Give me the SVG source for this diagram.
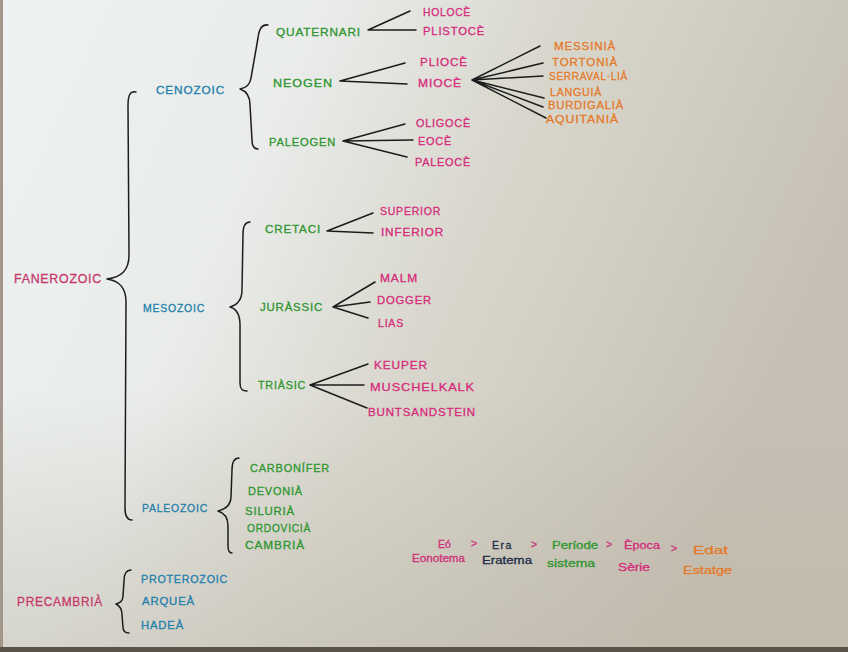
<svg xmlns="http://www.w3.org/2000/svg" width="848" height="652" viewBox="0 0 848 652">
<defs>
<linearGradient id="paper" x1="0" y1="0" x2="1" y2="0.35">
<stop offset="0" stop-color="#eef2f2"/>
<stop offset="0.35" stop-color="#e9ecea"/>
<stop offset="0.6" stop-color="#d9d7cd"/>
<stop offset="1" stop-color="#c6c0b4"/>
</linearGradient>
<linearGradient id="shade" x1="0" y1="0" x2="0" y2="1">
<stop offset="0.6" stop-color="#bcb6a8" stop-opacity="0"/>
<stop offset="1" stop-color="#bcb6a8" stop-opacity="0.45"/>
</linearGradient>
<style>
text{font-family:"Liberation Sans","DejaVu Sans",sans-serif;font-size:11px;letter-spacing:0.8px;stroke-width:0.3px}
.fan{fill:#c6386a;stroke:#c6386a;font-size:13px}
.era{fill:#1f80ab;stroke:#1f80ab}
.per{fill:#2f962f;stroke:#2f962f}
.epo{fill:#d62b7b;stroke:#d62b7b}
.age{fill:#e47a2a;stroke:#e47a2a}
.lg{font-size:10.5px;letter-spacing:0}
.dk{fill:#1d2c48;stroke:#1d2c48}
.gt{fill:#cf2f78;stroke:#cf2f78}
.ln{fill:none;stroke:#1c1c1c;stroke-width:1.5;stroke-linecap:round;stroke-linejoin:round}
</style>
</defs>
<rect width="848" height="652" fill="url(#paper)"/>
<rect width="848" height="652" fill="url(#shade)"/>
<rect x="0" y="0" width="3" height="652" fill="#a3968a"/>
<rect x="0" y="647" width="848" height="5" fill="#5b5249"/>

<g id="connectors">
<path class="ln" d="M136,92 C130,91 128,95 128,106 L129,255 C129,271 121,277 107,279 C120,281 126,288 126,302 L125,508 C125,516 127,520 132,520"/>
<path class="ln" d="M268,25 C262,24 259,29 258,38 L251,78 C250,85 246,88 240,89 C246,91 250,96 250,105 L252,140 C252,146 254,149 258,149"/>
<path class="ln" d="M250,222 C245,222 243,226 243,234 L242,290 C242,300 237,305 230,307 C237,309 240,315 240,325 L240,383 C240,389 242,391 247,391"/>
<path class="ln" d="M239,458 C234,458 232,462 232,470 L231,497 C231,505 226,509 218,511 C225,513 228,518 228,526 L228,546 C228,551 229,553 232,553"/>
<path class="ln" d="M131,570 C126,570 124,574 124,581 L123,596 C123,601 120,603 116,604 C120,606 122,609 122,615 L123,627 C123,631 125,633 129,633"/>
<path class="ln" d="M410,11 L368,30 L416,30"/>
<path class="ln" d="M405,63 L340,81 L407,84"/>
<path class="ln" d="M540,46 L472,80 L543,63 M472,80 L543,76 M472,80 L544,98 M472,80 L543,107 M472,80 L546,118"/>
<path class="ln" d="M405,124 L343,141 L413,140 M343,141 L407,157"/>
<path class="ln" d="M373,213 L327,231 L373,233"/>
<path class="ln" d="M375,282 L333,307 L370,302 M333,307 L368,318"/>
<path class="ln" d="M368,364 L310,385 L364,385 M310,385 L367,408"/>
</g>

<g id="fanerozoic"><text class="fan" x="14" y="283" textLength="88" lengthAdjust="spacingAndGlyphs">FANEROZOIC</text></g>
<g id="precambria"><text class="fan" x="17" y="606" textLength="86" lengthAdjust="spacingAndGlyphs">PRECAMBRIÀ</text></g>

<g id="cenozoic"><text class="era" x="156" y="94" textLength="69" lengthAdjust="spacingAndGlyphs">CENOZOIC</text></g>
<g id="mesozoic"><text class="era" x="143" y="312" textLength="62" lengthAdjust="spacingAndGlyphs">MESOZOIC</text></g>
<g id="paleozoic"><text class="era" x="142" y="512" textLength="66" lengthAdjust="spacingAndGlyphs">PALEOZOIC</text></g>
<g id="proterozoic"><text class="era" x="141" y="583" textLength="87" lengthAdjust="spacingAndGlyphs">PROTEROZOIC</text></g>
<g id="arquea"><text class="era" x="142" y="605" textLength="53" lengthAdjust="spacingAndGlyphs">ARQUEÀ</text></g>
<g id="hadea"><text class="era" x="141" y="629" textLength="43" lengthAdjust="spacingAndGlyphs">HADEÀ</text></g>

<g id="quaternari"><text class="per" x="276" y="36" textLength="85" lengthAdjust="spacingAndGlyphs">QUATERNARI</text></g>
<g id="neogen"><text class="per" x="273" y="87" textLength="60" lengthAdjust="spacingAndGlyphs">NEOGEN</text></g>
<g id="paleogen"><text class="per" x="269" y="146" textLength="67" lengthAdjust="spacingAndGlyphs">PALEOGEN</text></g>
<g id="cretaci"><text class="per" x="265" y="233" textLength="56" lengthAdjust="spacingAndGlyphs">CRETACI</text></g>
<g id="jurassic"><text class="per" x="260" y="311" textLength="63" lengthAdjust="spacingAndGlyphs">JURÀSSIC</text></g>
<g id="triasic"><text class="per" x="258" y="389" textLength="48" lengthAdjust="spacingAndGlyphs">TRIÀSIC</text></g>
<g id="carbonifer"><text class="per" x="250" y="472" textLength="80" lengthAdjust="spacingAndGlyphs">CARBONÍFER</text></g>
<g id="devonia"><text class="per" x="248" y="495" textLength="55" lengthAdjust="spacingAndGlyphs">DEVONIÀ</text></g>
<g id="siluria"><text class="per" x="245" y="515" textLength="50" lengthAdjust="spacingAndGlyphs">SILURIÀ</text></g>
<g id="ordovicia"><text class="per" x="247" y="532" textLength="64" lengthAdjust="spacingAndGlyphs">ORDOVICIÀ</text></g>
<g id="cambria"><text class="per" x="245" y="549" textLength="60" lengthAdjust="spacingAndGlyphs">CAMBRIÀ</text></g>

<g id="holoce"><text class="epo" x="423" y="16" textLength="48" lengthAdjust="spacingAndGlyphs">HOLOCÈ</text></g>
<g id="plistoce"><text class="epo" x="423" y="35" textLength="62" lengthAdjust="spacingAndGlyphs">PLISTOCÈ</text></g>
<g id="plioce"><text class="epo" x="420" y="66" textLength="48" lengthAdjust="spacingAndGlyphs">PLIOCÈ</text></g>
<g id="mioce"><text class="epo" x="418" y="87" textLength="44" lengthAdjust="spacingAndGlyphs">MIOCÈ</text></g>
<g id="oligoce"><text class="epo" x="416" y="127" textLength="55" lengthAdjust="spacingAndGlyphs">OLIGOCÈ</text></g>
<g id="eoce"><text class="epo" x="418" y="145" textLength="34" lengthAdjust="spacingAndGlyphs">EOCÈ</text></g>
<g id="paleoce"><text class="epo" x="415" y="166" textLength="56" lengthAdjust="spacingAndGlyphs">PALEOCÈ</text></g>
<g id="superior"><text class="epo" x="380" y="215" textLength="61" lengthAdjust="spacingAndGlyphs">SUPERIOR</text></g>
<g id="inferior"><text class="epo" x="381" y="236" textLength="63" lengthAdjust="spacingAndGlyphs">INFERIOR</text></g>
<g id="malm"><text class="epo" x="380" y="282" textLength="38" lengthAdjust="spacingAndGlyphs">MALM</text></g>
<g id="dogger"><text class="epo" x="377" y="304" textLength="55" lengthAdjust="spacingAndGlyphs">DOGGER</text></g>
<g id="lias"><text class="epo" x="378" y="327" textLength="26" lengthAdjust="spacingAndGlyphs">LIAS</text></g>
<g id="keuper"><text class="epo" x="374" y="369" textLength="54" lengthAdjust="spacingAndGlyphs">KEUPER</text></g>
<g id="muschelkalk"><text class="epo" x="370" y="391" textLength="105" lengthAdjust="spacingAndGlyphs">MUSCHELKALK</text></g>
<g id="buntsandstein"><text class="epo" x="368" y="416" textLength="108" lengthAdjust="spacingAndGlyphs">BUNTSANDSTEIN</text></g>

<g id="messinia"><text class="age" x="554" y="50" textLength="62" lengthAdjust="spacingAndGlyphs">MESSINIÀ</text></g>
<g id="tortonia"><text class="age" x="552" y="66" textLength="66" lengthAdjust="spacingAndGlyphs">TORTONIÀ</text></g>
<g id="serravallia"><text class="age" x="549" y="80" textLength="79" lengthAdjust="spacingAndGlyphs">SERRAVAL·LIÀ</text></g>
<g id="languia"><text class="age" x="550" y="96" textLength="52" lengthAdjust="spacingAndGlyphs">LANGUIÀ</text></g>
<g id="burdigalia"><text class="age" x="548" y="109" textLength="76" lengthAdjust="spacingAndGlyphs">BURDIGALIÀ</text></g>
<g id="aquitania"><text class="age" x="546" y="123" textLength="73" lengthAdjust="spacingAndGlyphs">AQUITANIÀ</text></g>

<g id="legend">
<text class="lg gt" x="438" y="548">Eó</text>
<text class="lg gt" x="471" y="547">&gt;</text>
<text class="lg dk" x="492" y="549" style="letter-spacing:1.5px">Era</text>
<text class="lg gt" x="531" y="548">&gt;</text>
<text class="lg per" x="552" y="549" textLength="46" lengthAdjust="spacingAndGlyphs">Període</text>
<text class="lg gt" x="606" y="548">&gt;</text>
<text class="lg epo" x="624" y="549" textLength="36" lengthAdjust="spacingAndGlyphs">Època</text>
<text class="lg gt" x="671" y="552">&gt;</text>
<text class="lg age" x="693" y="554" textLength="35" lengthAdjust="spacingAndGlyphs">Edat</text>
<text class="lg gt" x="412" y="562" textLength="53" lengthAdjust="spacingAndGlyphs">Eonotema</text>
<text class="lg dk" x="482" y="564" textLength="50" lengthAdjust="spacingAndGlyphs">Eratema</text>
<text class="lg per" x="547" y="567" textLength="48" lengthAdjust="spacingAndGlyphs">sistema</text>
<text class="lg epo" x="618" y="571" textLength="32" lengthAdjust="spacingAndGlyphs">Sèrie</text>
<text class="lg age" x="683" y="574" textLength="49" lengthAdjust="spacingAndGlyphs">Estatge</text>
</g>
</svg>
